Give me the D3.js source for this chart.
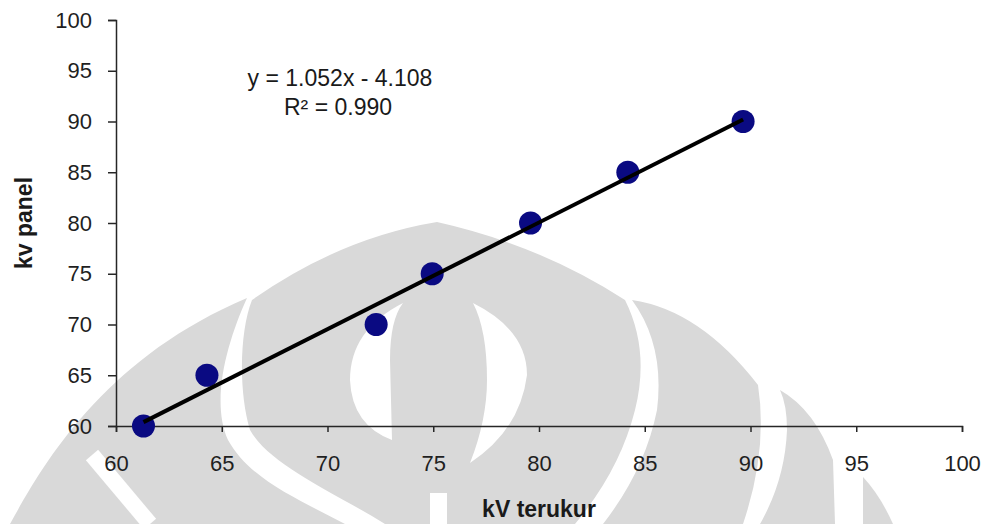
<!DOCTYPE html>
<html>
<head>
<meta charset="utf-8">
<script src="https://cdn.jsdelivr.net/npm/d3@7"></script>
<style>
  html, body { margin: 0; padding: 0; background: #fff; }
  svg { display: block; font-family: "Liberation Sans", Arial, sans-serif; }
</style>
</head>
<body>
<div id="chart"></div>
<script>
// measured kV vs panel kV
const kvTerukur = [61.3, 64.3, 72.3, 74.95, 79.6, 84.2, 89.65];
const kvPanel = [60, 65, 70, 75, 80, 85, 90];

const xTicks = [60, 65, 70, 75, 80, 85, 90, 95, 100];
const yTicks = [60, 65, 70, 75, 80, 85, 90, 95, 100];

// linear trendline (as printed on the chart)
const slope = 1.052;
const intercept = -4.108;
const rSquared = 0.990;

const width = 989, height = 524;
const margin = { top: 20, right: 27, bottom: 98, left: 116 };

const svg = d3.select("#chart").append("svg")
    .attr("width", width)
    .attr("height", height);

svg.append("rect").attr("width", width).attr("height", height).attr("fill", "#fff");

// faint logo watermark behind the plot
function drawWatermark() {
    const g = svg.append("g").attr("class", "watermark");
    const grey = "#d9d9d9";
    const shapes = [
        { d: "M10,524 C40,470 100,360 247,298 C228,340 210,400 228,440 C250,480 300,500 345,524 Z", fill: grey },
        { d: "M252,300 Q340,238 437,222 Q540,245 625,300 Q650,350 635,410 Q620,470 575,524 L385,524 C330,490 270,465 250,430 C238,390 240,330 252,300 Z", fill: grey },
        { d: "M632,300 Q700,310 758,385 Q768,450 743,524 L603,524 Q645,470 657,410 Q665,345 632,300 Z", fill: grey },
        { d: "M780,390 Q815,410 833,460 L835,524 L760,524 Q785,480 787,430 Q787,405 780,390 Z", fill: grey },
        { d: "M863,477 Q880,495 893,524 L863,524 Z", fill: grey },
        // white cut-outs
        { d: "M403,303 Q350,330 350,380 Q352,425 392,440 L390,360 Q390,320 403,303 Z", fill: "#fff" },
        { d: "M473,303 Q527,330 527,375 Q520,430 470,463 Q487,420 487,380 Q487,330 473,303 Z", fill: "#fff" },
        { d: "M430,493 H447 V524 H430 Z", fill: "#fff" }
    ];
    g.selectAll("path").data(shapes).enter().append("path")
        .attr("d", d => d.d)
        .attr("fill", d => d.fill);
    g.append("line")
        .attr("x1", 92).attr("y1", 455).attr("x2", 150).attr("y2", 524)
        .attr("stroke", "#fff").attr("stroke-width", 16);
}
drawWatermark();

const x = d3.scaleLinear().domain([60, 100]).range([margin.left, width - margin.right]);
const y = d3.scaleLinear().domain([60, 100]).range([height - margin.bottom, margin.top]);

const axisColor = "#262626";

// x axis
const xAxis = svg.append("g")
    .attr("transform", `translate(0,${y(60)})`)
    .call(d3.axisBottom(x).tickValues(xTicks).tickSize(6).tickPadding(23).tickFormat(d3.format("d")));

// y axis
const yAxis = svg.append("g")
    .attr("transform", `translate(${x(60)},0)`)
    .call(d3.axisLeft(y).tickValues(yTicks).tickSize(8).tickPadding(16).tickFormat(d3.format("d")));

[xAxis, yAxis].forEach(ax => {
    ax.select(".domain").attr("stroke", axisColor).attr("stroke-width", 1.5);
    ax.selectAll(".tick line").attr("stroke", axisColor).attr("stroke-width", 1.5);
    ax.selectAll(".tick text")
        .attr("fill", "#1f1f1f")
        .style("font-size", "22px")
        .style("font-family", "'Liberation Sans', Arial, sans-serif");
});

// axis titles
svg.append("text")
    .attr("x", (x(60) + x(100)) / 2)
    .attr("y", 517)
    .attr("text-anchor", "middle")
    .attr("fill", "#1a1a1a")
    .style("font-size", "23px")
    .style("font-weight", "bold")
    .text("kV terukur");

svg.append("text")
    .attr("transform", `translate(32,${(y(60) + y(100)) / 2}) rotate(-90)`)
    .attr("text-anchor", "middle")
    .attr("fill", "#1a1a1a")
    .style("font-size", "23px")
    .style("font-weight", "bold")
    .text("kv panel");

// points
const points = kvTerukur.map((v, i) => ({ x: v, y: kvPanel[i] }));

svg.append("g")
    .selectAll("circle")
    .data(points)
    .enter().append("circle")
    .attr("cx", d => x(d.x))
    .attr("cy", d => y(d.y))
    .attr("r", 11.5)
    .attr("fill", "#0a0a82");

// trendline over the points range
const xMin = d3.min(kvTerukur), xMax = d3.max(kvTerukur);
svg.append("line")
    .attr("x1", x(xMin))
    .attr("y1", y(slope * xMin + intercept))
    .attr("x2", x(xMax))
    .attr("y2", y(slope * xMax + intercept))
    .attr("stroke", "#000")
    .attr("stroke-width", 4);

// equation label
const eq = svg.append("text")
    .attr("text-anchor", "middle")
    .attr("fill", "#1a1a1a")
    .style("font-size", "23px");
eq.append("tspan").attr("x", 340).attr("y", 86)
    .text(`y = ${slope.toFixed(3)}x - ${Math.abs(intercept).toFixed(3)}`);
eq.append("tspan").attr("x", 338).attr("y", 115)
    .text(`R² = ${rSquared.toFixed(3)}`);
</script>
</body>
</html>
